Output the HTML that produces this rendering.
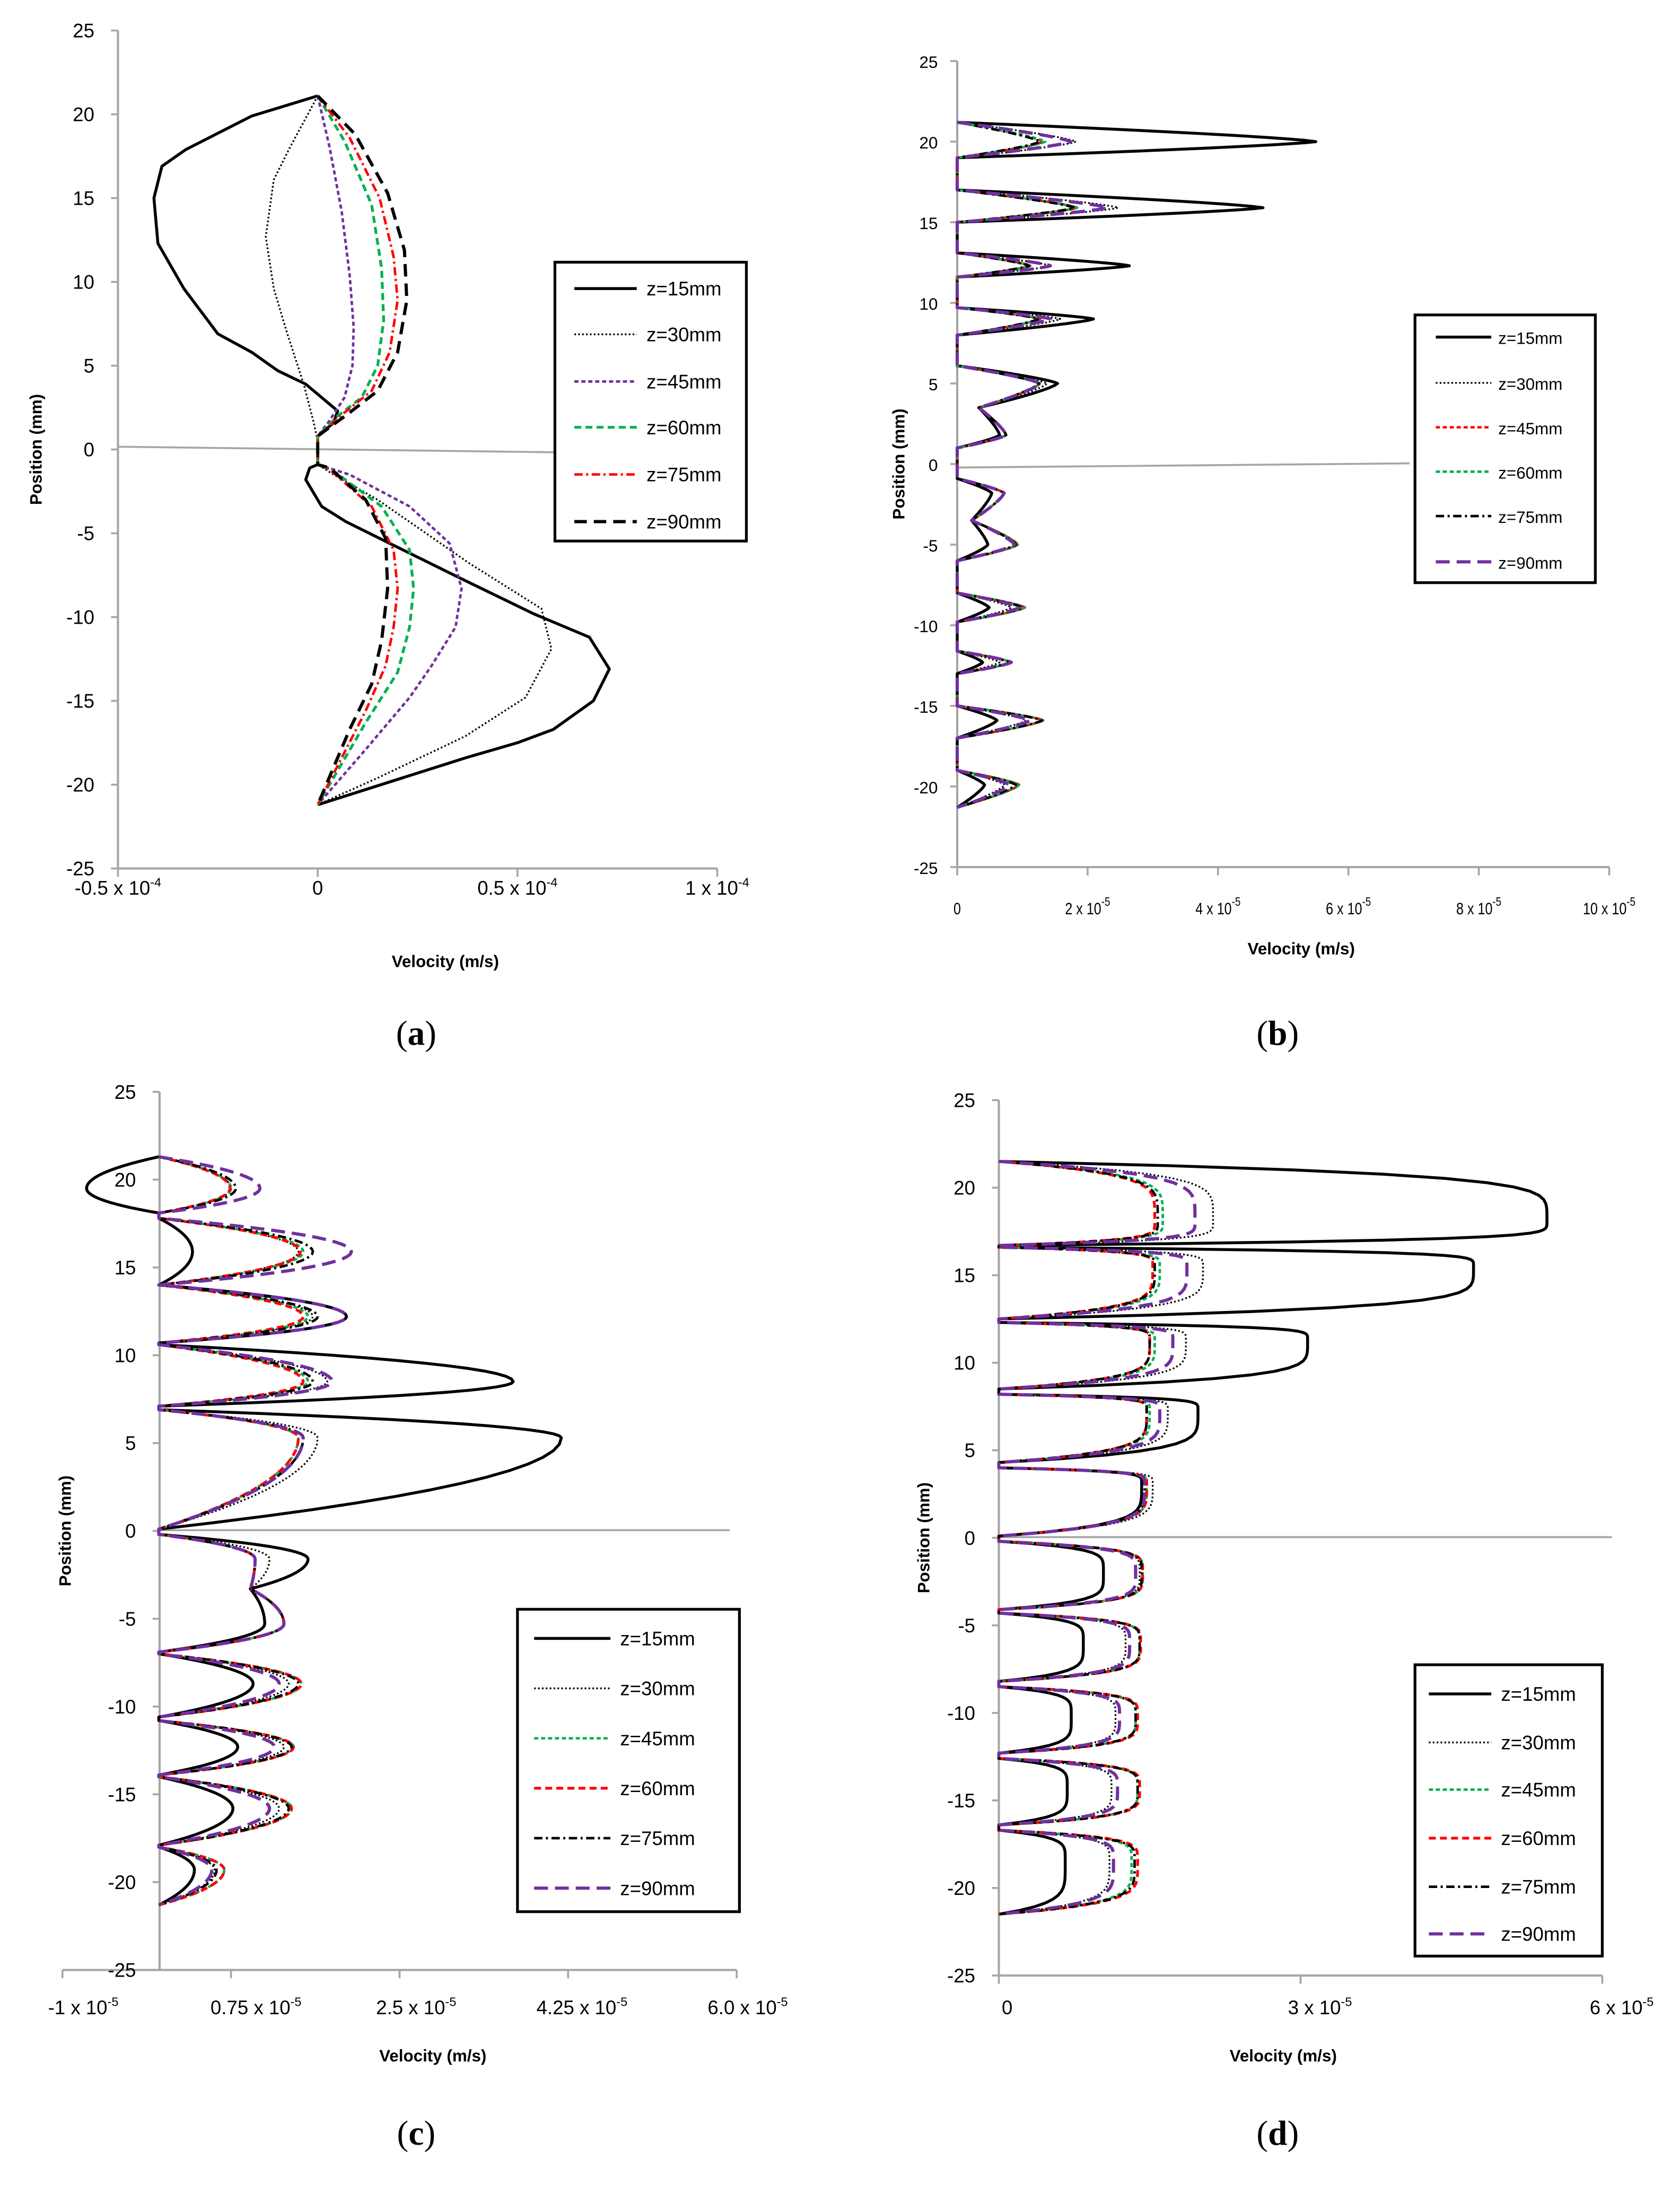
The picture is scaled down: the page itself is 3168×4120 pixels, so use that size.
<!DOCTYPE html>
<html><head><meta charset="utf-8"><style>
html,body{margin:0;padding:0;background:#fff;}
svg{display:block;}
text{font-family:"Liberation Sans",sans-serif;fill:#000;}
.tk{font-size:14px;}
.tkb{font-size:12px;}
.ttl{font-size:12px;font-weight:bold;}
.lg{font-size:14px;}
.lgb{font-size:12px;}
.cap{font-family:"Liberation Serif",serif;font-size:25px;}
</style></head><body>
<svg id="fig" width="3168" height="4120" viewBox="0 0 1211 1575" xmlns="http://www.w3.org/2000/svg">
<rect x="0" y="0" width="1211" height="1575" fill="#fff"/>
</svg>
<script>
// ---------- Panel (a) data (position mm, velocity x1e-4 m/s) ----------
const aPos15=[21.1,19.9,17.9,16.9,15,12.3,9.6,6.9,5.8,4.7,3.9,2.3,1.6,0.8,-0.9,-1.1,-1.8,-3.4,-4.3,-5.6,-7.6,-9.8,-11.2,-13.1,-15,-16.7,-17.5,-18.4,-21.2];
const aVel15=[0,-0.165,-0.33,-0.39,-0.41,-0.40,-0.335,-0.25,-0.165,-0.10,-0.03,0.05,0.04,0,0,-0.02,-0.03,0.01,0.07,0.18,0.35,0.54,0.68,0.73,0.69,0.59,0.50,0.37,0];
const aPos30=[21.1,18,16.1,12.7,9.6,6.9,3.9,1.6,0.5,-0.9,-1.5,-3,-6.8,-9.5,-11.9,-14.8,-17.1,-19.6,-21.2];
const aVel30=[0,-0.07,-0.11,-0.13,-0.11,-0.076,-0.035,-0.01,0,0,0.04,0.15,0.38,0.56,0.585,0.52,0.37,0.15,0];
const aPos45=[21.1,18,14.2,10.4,7.3,5,3.1,1.6,0.8,-0.9,-1.5,-3.4,-5.6,-8.3,-10.6,-12.9,-14.8,-17.9,-21.2];
const aVel45=[0,0.03,0.06,0.08,0.09,0.087,0.067,0.026,0,0,0.08,0.23,0.33,0.36,0.345,0.285,0.23,0.12,0];
const aPos60=[21.1,18.4,14.6,10.8,7.7,5,3.1,2,0.8,-0.9,-1.3,-3.4,-6,-8.3,-10.6,-13.3,-16.3,-21.2];
const aVel60=[0,0.067,0.135,0.16,0.165,0.15,0.11,0.05,0,0,0.04,0.16,0.23,0.24,0.23,0.2,0.12,0];
const aPos75=[21.1,18.6,15,11.5,8.9,5.8,3.5,2.2,0.8,-0.9,-1.2,-3.4,-6,-8.3,-10.6,-12.9,-15.6,-21.2];
const aVel75=[0,0.08,0.155,0.19,0.2,0.18,0.135,0.067,0,0,0.03,0.135,0.19,0.2,0.19,0.17,0.12,0];
const aPos90=[21.1,18.8,15.3,11.9,8.9,5.8,3.5,2.2,0.8,-0.9,-1.1,-3,-5.3,-8.3,-11.4,-14,-16.7,-21.2];
const aVel90=[0,0.094,0.175,0.217,0.223,0.2,0.15,0.08,0,0,0.03,0.12,0.17,0.175,0.16,0.135,0.08,0];
const aXTicks=[-0.5,0,0.5,1];
const aXLabels=["-0.5 x 10","0","0.5 x 10","1 x 10"];
const yTicks=[25,20,15,10,5,0,-5,-10,-15,-20,-25];

// ---------- Panel (b) data (x1e-5 m/s) ----------
const bTop=[21.2,17.0,13.1,9.7,6.1,3.5,-0.9,-3.5,-8.0,-11.6,-15.0,-19.0];
const bBot=[19.0,15.0,11.6,8.0,3.5,1.0,-3.5,-6.0,-9.8,-13.0,-17.0,-21.3];
const bPeakPos=[20.0,15.9,12.3,9.0,5.0,1.8,-1.8,-5.0,-8.9,-12.3,-15.9,-19.9];
const bFloorTop=[0,0,0,0,0,0.33,0,0.22,0,0,0,0];
const bFloorBot=[0,0,0,0,0.33,0,0.22,0,0,0,0,0];
const b15=[5.5,4.69,2.64,2.09,1.54,0.65,0.53,0.47,0.49,0.39,0.61,0.42];
const b30=[1.82,2.47,1.43,1.58,1.38,0.75,0.72,0.9,0.83,0.65,1.06,0.73];
const b45=[1.32,1.84,1.12,1.27,1.27,0.75,0.72,0.93,1.04,0.83,1.32,0.95];
const b60=[1.35,1.84,1.12,1.27,1.27,0.75,0.72,0.93,1.04,0.83,1.32,0.95];
const b75=[1.27,1.8,1.1,1.25,1.25,0.75,0.72,0.9,1.0,0.8,1.3,0.9];
const b90=[1.74,2.31,1.43,1.43,1.27,0.75,0.72,0.88,0.95,0.83,1.12,0.8];
const bXTicks=[0,2,4,6,8,10];
const bXLabels=["0","2 x 10","4 x 10","6 x 10","8 x 10","10 x 10"];

// ---------- Panel (c) data (x1e-5 m/s) ----------
const cTop=[21.3,17.8,14.0,10.6,6.9,-0.2,-3.3,-7.0,-10.8,-14.0,-18.0];
const cBot=[18.1,14.0,10.7,7.1,0.1,-3.3,-6.9,-10.6,-13.9,-17.9,-21.3];
const cPeakPos=[19.5,15.9,12.2,8.5,5.3,-1.6,-5.3,-8.7,-12.3,-15.8,-19.3];
const cFloorTop=[0,0,0,0,0,0,0.95,0,0,0,0];
const cFloorBot=[0,0,0,0,0,0.95,0,0,0,0,0];
const c15=[-0.75,0.35,1.95,3.68,4.18,1.55,1.1,0.98,0.82,0.77,0.37];
const c30=[0.75,1.45,1.6,1.75,1.65,1.15,1.3,1.35,1.3,1.25,0.58];
const c45=[0.75,1.5,1.55,1.55,1.45,1.0,1.3,1.48,1.4,1.38,0.68];
const c60=[0.74,1.47,1.5,1.5,1.45,1.0,1.3,1.48,1.4,1.38,0.68];
const c75=[0.8,1.6,1.65,1.6,1.5,1.0,1.3,1.45,1.38,1.35,0.6];
const c90=[1.05,2.0,1.95,1.8,1.5,1.0,1.3,1.25,1.2,1.15,0.55];
const cXTicks=[-1,0.75,2.5,4.25,6.0];
const cXLabels=["-1 x 10","0.75 x 10","2.5 x 10","4.25 x 10","6.0 x 10"];

// ---------- Panel (d) data (x1e-5 m/s) ----------
const dTop=[21.5,16.6,12.3,8.2,4.0,-0.2,-4.3,-8.5,-12.6,-16.7];
const dBot=[16.7,12.5,8.5,4.3,0.1,-4.1,-8.2,-12.3,-16.4,-21.5];
const dPeakPos=[18.1,15.5,11.3,7.3,3.1,-2.0,-6.0,-10.2,-14.3,-18.5];
const dFloorTop=[0,0,0,0,0,0,0,0,0,0];
const dFloorBot=[0,0,0,0,0,0,0,0,0,0];
const d15=[5.45,4.72,3.07,1.98,1.42,1.04,0.84,0.72,0.68,0.66];
const d30=[2.13,2.03,1.86,1.68,1.53,1.4,1.26,1.16,1.12,1.1];
const d45=[1.63,1.6,1.55,1.5,1.47,1.43,1.4,1.36,1.38,1.32];
const d60=[1.55,1.53,1.5,1.47,1.47,1.43,1.41,1.38,1.4,1.38];
const d75=[1.58,1.55,1.5,1.47,1.45,1.42,1.4,1.36,1.38,1.35];
const d90=[1.95,1.87,1.73,1.6,1.45,1.36,1.3,1.2,1.18,1.14];
const dXTicks=[0,3,6];
const dXLabels=["0","3 x 10","6 x 10"];

const seriesNames=["z=15mm","z=30mm","z=45mm","z=60mm","z=75mm","z=90mm"];

const NS="http://www.w3.org/2000/svg";
const svg=document.getElementById('fig');
function mk(tag,attrs,parent){const e=document.createElementNS(NS,tag);for(const k in attrs)e.setAttribute(k,attrs[k]);(parent||svg).appendChild(e);return e;}

const ST={
 solid:{stroke:"#000",w:2.1,da:""},
 dot:{stroke:"#000",w:1.3,da:"1.2 1.6"},
 purpleS:{stroke:"#7030a0",w:1.8,da:"3 2"},
 greenS:{stroke:"#00b050",w:1.8,da:"3 2"},
 greenM:{stroke:"#00b050",w:2,da:"5 3"},
 redM:{stroke:"#ff0000",w:2,da:"5 3"},
 redS:{stroke:"#ff0000",w:1.8,da:"3 2"},
 redDD:{stroke:"#ff0000",w:1.8,da:"6 2.5 1.5 2.5"},
 blackDD:{stroke:"#000",w:1.8,da:"6 2.5 1.5 2.5"},
 blackL:{stroke:"#000",w:2.3,da:"9 5"},
 purpleL:{stroke:"#7030a0",w:2.3,da:"10 5"}
};

function panel(cfg){
 const g=mk('g',{});
 
 
 const X=v=>cfg.x0+(v-cfg.xmin)*(cfg.x1-cfg.x0)/(cfg.xmax-cfg.xmin);
 const Y=p=>cfg.yTop+(25-p)*(cfg.yBot-cfg.yTop)/50;
 cfg.X=X;cfg.Y=Y;
 const ya=mk('line',{x1:cfg.axisX,y1:Y(25),x2:cfg.axisX,y2:Y(-25),stroke:"#a6a6a6","stroke-width":1.6},g);
 
 const xa=mk('line',{x1:cfg.x0,y1:Y(-25),x2:cfg.x1,y2:Y(-25),stroke:"#a6a6a6","stroke-width":1.6},g);
 
 yTicks.forEach(t=>{
  mk('line',{x1:cfg.axisX-5,y1:Y(t),x2:cfg.axisX,y2:Y(t),stroke:"#a6a6a6","stroke-width":1.4},g);
  const tx=mk('text',{x:cfg.yLabX,y:Y(t)+5,'text-anchor':'end',class:cfg.tkc},g);
  tx.textContent=String(t);
  
 });
 cfg.xTicks.forEach((t,i)=>{
  mk('line',{x1:X(t),y1:Y(-25),x2:X(t),y2:Y(-25)+6,stroke:"#a6a6a6","stroke-width":1.4},g);
  const attrs={x:X(t)+(cfg.xLabOff?cfg.xLabOff[i]:0),y:cfg.xLabY,'text-anchor':'middle',class:cfg.tkc};
  if(cfg.squeeze){attrs.transform=`translate(${attrs.x},0) scale(0.8,1) translate(${-attrs.x},0)`;}
  const tx=mk('text',attrs,g);
  
  tx.appendChild(document.createTextNode(cfg.xLabels[i]));
  if(cfg.xLabels[i]!=="0"){const s=mk('tspan',{dy:-6,'font-size':9},tx);s.textContent=cfg.exp;}
 });
 const zl=mk('line',{x1:cfg.axisX,y1:cfg.zeroY1,x2:cfg.zeroX2,y2:cfg.zeroY2,stroke:"#a6a6a6","stroke-width":1.4},g);
 
 const xt=mk('text',{x:cfg.xtX,y:cfg.xtY,'text-anchor':'middle',class:'ttl'},g);
 xt.textContent="Velocity (m/s)";
 
 const yt=mk('text',{x:0,y:0,'text-anchor':'middle',class:'ttl',transform:`translate(${cfg.ytX},${Y(0)}) rotate(-90)`},g);
 yt.textContent="Position  (mm)";
 
 const cp=mk('text',{x:cfg.capX,y:cfg.capY,'text-anchor':'middle',class:'cap'},g);
 cp.appendChild(document.createTextNode("("));
 const bb=mk('tspan',{'font-weight':'bold'},cp);bb.textContent=cfg.cap;
 cp.appendChild(document.createTextNode(")"));
 
 return g;
}

function drawPath(g,pts,st,name){
 const p=mk('polyline',{points:pts.map(q=>q[0].toFixed(2)+","+q[1].toFixed(2)).join(" "),fill:"none",stroke:st.stroke,"stroke-width":st.w,"stroke-dasharray":st.da,"stroke-linejoin":"round"},g);
 
 
}

function lobeSeries(cfg,g,peaks,st,name,L){
 const pts=[];
 for(let i=0;i<L.top.length;i++){
  const t=L.top[i],b=L.bot[i],pp=L.peak[i],P=peaks[i],fT=L.fT[i],fB=L.fB[i];
  if(i>0&&L.bot[i-1]!==t){pts.push([cfg.X(0),cfg.Y(t)]);}
  const N=14;
  for(let k=0;k<=N;k++){const s=k/N;const v=fT+(P-fT)*(1-Math.pow(1-s,cfg.n));pts.push([cfg.X(v),cfg.Y(t+(pp-t)*s)]);}
  for(let k=N-1;k>=0;k--){const s=k/N;const v=fB+(P-fB)*(1-Math.pow(1-s,cfg.n));pts.push([cfg.X(v),cfg.Y(b+(pp-b)*s)]);}
 }
 drawPath(g,pts,st,name);
}

function legend(g,lx,ly,lw,lh,rows,lineX1,lineX2,textX,styles,cls){
 const r=mk('rect',{x:lx,y:ly,width:lw,height:lh,fill:"#fff",stroke:"#000","stroke-width":2},g);
 
 rows.forEach((yy,i)=>{
  const st=styles[i];
  const l=mk('line',{x1:lineX1,y1:yy,x2:lineX2,y2:yy,stroke:st.stroke,"stroke-width":st.w,"stroke-dasharray":st.da},g);
  
  const t=mk('text',{x:textX,y:yy+5,class:cls},g);
  t.textContent=seriesNames[i];
  
 });
}

// ---- Panel a ----
const A={name:'panel-a',x0:85,x1:517,xmin:-0.5,xmax:1,yTop:22,yBot:626,axisX:85,yLabX:68,tkc:'tk',xTicks:aXTicks,xLabels:aXLabels,exp:"-4",xLabY:645,zeroY1:322,zeroX2:400,zeroY2:326,xtX:321,xtY:697,ytX:30,capX:300,capY:753,cap:'a'};
const gA=panel(A);
const aStyles=[ST.solid,ST.dot,ST.purpleS,ST.greenM,ST.redDD,ST.blackL];
[[aPos15,aVel15],[aPos30,aVel30],[aPos45,aVel45],[aPos60,aVel60],[aPos75,aVel75],[aPos90,aVel90]].forEach((s,i)=>{
 drawPath(gA,s[0].map((p,j)=>[A.X(s[1][j]),A.Y(p)]),aStyles[i],'series-a-'+seriesNames[i].replace('=','-'));
});
legend(gA,400,189,138,201,[208,241,275,308,342,376],414,459,466,aStyles,'lg');

// ---- Panel b ----
const B={name:'panel-b',x0:690,x1:1160,xmin:0,xmax:10,yTop:44,yBot:625,axisX:690,yLabX:676,tkc:'tkb',squeeze:true,xTicks:bXTicks,xLabels:bXLabels,exp:"-5",xLabY:659,zeroY1:337,zeroX2:1016,zeroY2:334,xtX:938,xtY:688,ytX:652,capX:921,capY:753,cap:'b',n:1.3};
const gB=panel(B);
const bStyles=[ST.solid,ST.dot,ST.redS,ST.greenS,ST.blackDD,ST.purpleL];
const bL={top:bTop,bot:bBot,peak:bPeakPos,fT:bFloorTop,fB:bFloorBot};
[b15,b30,b45,b60,b75,b90].forEach((s,i)=>lobeSeries(B,gB,s,bStyles[i],'series-b-'+seriesNames[i].replace('=','-'),bL));
legend(gB,1020,227,130,193,[243,276,308,340,372,405],1035,1075,1080,bStyles,'lgb');

// ---- Panel c ----
const C={name:'panel-c',x0:45,x1:531,xmin:-1,xmax:6,yTop:787,yBot:1420,axisX:115,yLabX:98,tkc:'tk',xTicks:cXTicks,xLabels:cXLabels,exp:"-5",xLabY:1452,xLabOff:[15,18,12,10,8],zeroY1:1103,zeroX2:526,zeroY2:1103,xtX:312,xtY:1486,ytX:51,capX:300,capY:1546,cap:'c',n:2};
const gC=panel(C);
const cStyles=[ST.solid,ST.dot,ST.greenS,ST.redM,ST.blackDD,ST.purpleL];
const cL={top:cTop,bot:cBot,peak:cPeakPos,fT:cFloorTop,fB:cFloorBot};
[c15,c30,c45,c60,c75,c90].forEach((s,i)=>lobeSeries(C,gC,s,cStyles[i],'series-c-'+seriesNames[i].replace('=','-'),cL));
legend(gC,373,1160,160,218,[1181,1217,1253,1289,1325,1361],385,440,447,cStyles,'lg');

// ---- Panel d ----
const D={name:'panel-d',x0:720,x1:1155,xmin:0,xmax:6,yTop:793,yBot:1424,axisX:720,yLabX:703,tkc:'tk',xTicks:dXTicks,xLabels:dXLabels,exp:"-5",xLabY:1452,xLabOff:[6,14,14],zeroY1:1108,zeroX2:1162,zeroY2:1108,xtX:925,xtY:1486,ytX:670,capX:921,capY:1546,cap:'d',n:5};
const gD=panel(D);
const dStyles=[ST.solid,ST.dot,ST.greenS,ST.redM,ST.blackDD,ST.purpleL];
const dL={top:dTop,bot:dBot,peak:dPeakPos,fT:dFloorTop,fB:dFloorBot};
[d15,d30,d45,d60,d75,d90].forEach((s,i)=>lobeSeries(D,gD,s,dStyles[i],'series-d-'+seriesNames[i].replace('=','-'),dL));
legend(gD,1020,1200,135,210,[1221,1256,1290,1325,1360,1394],1030,1075,1082,dStyles,'lg');
</script>
</body></html>
